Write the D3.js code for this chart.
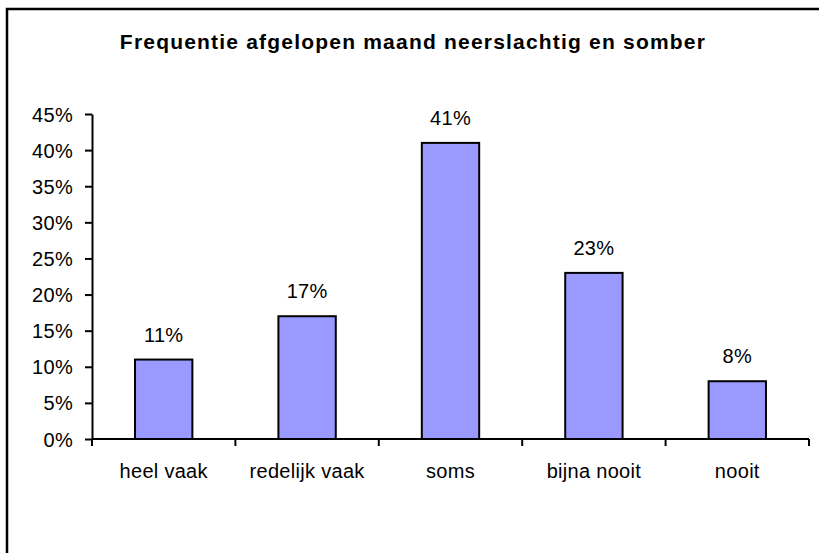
<!DOCTYPE html>
<html>
<head>
<meta charset="utf-8">
<script src="https://cdn.jsdelivr.net/npm/d3@7"></script>
<style>
  html, body { margin: 0; padding: 0; background: #fff; }
  svg { display: block; font-family: "Liberation Sans", Arial, sans-serif; }
</style>
</head>
<body>
<svg id="chart" width="819" height="553"></svg>
<script>
// Survey answers: how often respondents felt down and gloomy last month
const categories = ["heel vaak", "redelijk vaak", "soms", "bijna nooit", "nooit"];
const values = [11, 17, 41, 23, 8];
const yTicks = [0, 5, 10, 15, 20, 25, 30, 35, 40, 45];
const title = "Frequentie afgelopen maand neerslachtig en somber";

const svg = d3.select("#chart");
const labelSize = 20;

// Outer frame of the chart area (extends past the window on right/bottom)
svg.append("rect")
  .attr("x", 7).attr("y", 9)
  .attr("width", 830).attr("height", 560)
  .attr("fill", "#fff")
  .attr("stroke", "#000")
  .attr("stroke-width", 2.5);

const plot = { left: 92, right: 809, top: 114, bottom: 439 };

const x = d3.scaleBand()
  .domain(categories)
  .range([plot.left, plot.right])
  .paddingInner(0.6)
  .paddingOuter(0.3);

const y = d3.scaleLinear()
  .domain([0, 45])
  .range([plot.bottom, plot.top]);

// Title
svg.append("text")
  .attr("x", 413).attr("y", 49)
  .attr("text-anchor", "middle")
  .attr("font-weight", "bold")
  .attr("font-size", 21)
  .attr("letter-spacing", 1.2)
  .text(title);

// Bars
svg.append("g").selectAll("rect")
  .data(values)
  .join("rect")
  .attr("x", (d, i) => x(categories[i]))
  .attr("y", d => y(d))
  .attr("width", x.bandwidth())
  .attr("height", d => y(0) - y(d))
  .attr("fill", "#9999ff")
  .attr("stroke", "#000")
  .attr("stroke-width", 2);

// Value labels above bars
svg.append("g").selectAll("text")
  .data(values)
  .join("text")
  .attr("x", (d, i) => x(categories[i]) + x.bandwidth() / 2)
  .attr("y", d => y(d) - 18)
  .attr("text-anchor", "middle")
  .attr("font-size", labelSize)
  .attr("letter-spacing", 0.3)
  .text(d => d + "%");

// Y axis
const yAxis = svg.append("g")
  .attr("transform", `translate(${plot.left},0)`)
  .call(d3.axisLeft(y).tickValues(yTicks).tickFormat(d => d + "%").tickSize(7).tickSizeOuter(0));
yAxis.select(".domain").attr("stroke-width", 2);
yAxis.selectAll(".tick line").attr("stroke-width", 2);
yAxis.selectAll(".tick text")
  .attr("font-size", labelSize)
  .attr("font-family", "Liberation Sans, Arial, sans-serif")
  .attr("letter-spacing", 0.3)
  .attr("fill", "#000")
  .attr("dx", -9)
  .attr("dy", "0.35em");

// X axis: baseline with ticks at category boundaries
const boundaries = d3.range(categories.length + 1).map(i => plot.left + i * (plot.right - plot.left) / categories.length);
const xg = svg.append("g");
xg.append("line")
  .attr("x1", plot.left).attr("x2", plot.right)
  .attr("y1", plot.bottom).attr("y2", plot.bottom)
  .attr("stroke", "#000").attr("stroke-width", 2);
xg.selectAll("line.tick")
  .data(boundaries)
  .join("line")
  .attr("class", "tick")
  .attr("x1", d => d).attr("x2", d => d)
  .attr("y1", plot.bottom).attr("y2", plot.bottom + 7)
  .attr("stroke", "#000").attr("stroke-width", 2);
xg.selectAll("text")
  .data(categories)
  .join("text")
  .attr("x", d => x(d) + x.bandwidth() / 2)
  .attr("y", 478)
  .attr("text-anchor", "middle")
  .attr("font-size", labelSize)
  .attr("letter-spacing", 0.3)
  .text(d => d);
</script>
</body>
</html>
